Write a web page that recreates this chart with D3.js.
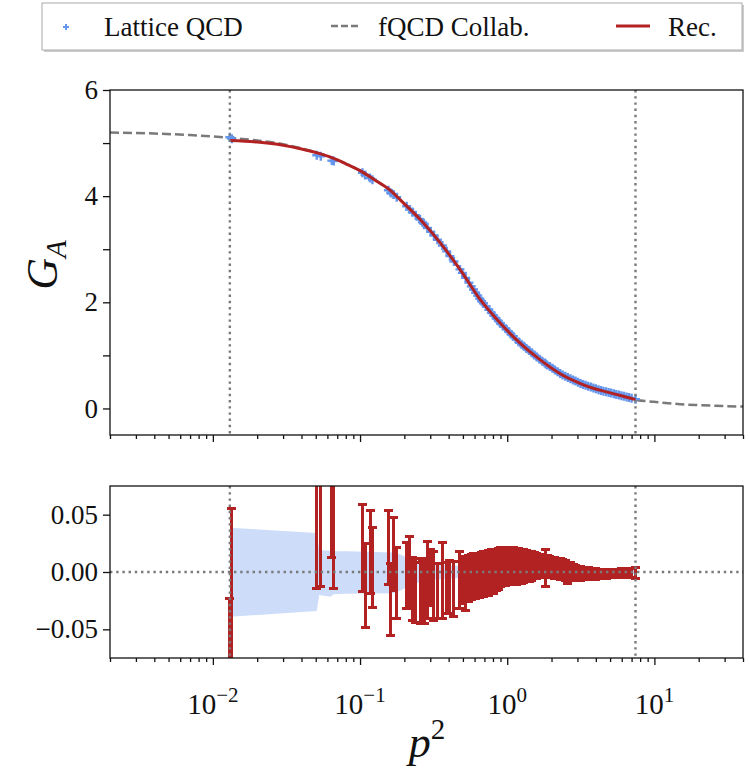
<!DOCTYPE html>
<html>
<head>
<meta charset="utf-8">
<script src="https://cdn.jsdelivr.net/npm/d3@7"></script>
<style>
  body { margin: 0; background: #fff; }
  text { font-family: "Liberation Serif", "DejaVu Serif", serif; fill: #111; }
</style>
</head>
<body>
<script>
// reconstruction curve (top panel)
var recP2 = [0.01304, 0.02, 0.03, 0.04, 0.052, 0.065, 0.08, 0.1, 0.13, 0.162, 0.189, 0.2584, 0.353,
    0.4827, 0.66, 0.902, 1.233, 1.685, 2.304, 3.15, 4.31, 5.89, 7.44];
var recG = [5.05, 5.02, 4.96, 4.89, 4.81, 4.72, 4.61, 4.48, 4.28, 4.10, 3.92, 3.55, 3.11,
    2.60, 2.04, 1.60, 1.22, 0.91, 0.65, 0.47, 0.34, 0.245, 0.165];

// fQCD collaboration curve
var fqcdP2 = [0.002, 0.004, 0.007, 0.01304, 0.02, 0.03, 0.04, 0.052, 0.065, 0.08, 0.1, 0.13, 0.162,
    0.189, 0.2584, 0.353, 0.4827, 0.66, 0.902, 1.233, 1.685, 2.304, 3.15, 4.31, 5.89, 7.44,
    10, 15, 20, 30, 40];
var fqcdG = [5.20, 5.18, 5.15, 5.10, 5.05, 4.98, 4.90, 4.81, 4.72, 4.61, 4.48, 4.28, 4.10,
    3.92, 3.55, 3.11, 2.60, 2.04, 1.60, 1.22, 0.91, 0.65, 0.47, 0.34, 0.245, 0.165,
    0.125, 0.08, 0.063, 0.045, 0.036];

// lattice points
var latP2 = [
    0.01304, 0.01346, 0.0508, 0.0541, 0.0643, 0.0663, 0.1038, 0.1081, 0.1169, 0.1214,
    0.1559, 0.1616, 0.1693, 0.1775, 0.2075, 0.2175, 0.2268, 0.2388, 0.2555, 0.2652,
    0.2720, 0.2869, 0.3020, 0.3180, 0.3354, 0.3626, 0.3878, 0.4083, 0.4346, 0.4776,
    0.4956, 0.5219, 0.5495,
    0.57, 0.59, 0.61, 0.63, 0.65, 0.67, 0.69, 0.72, 0.75, 0.78, 0.81, 0.84, 0.87, 0.90, 0.94, 0.98,
    1.02, 1.06, 1.10, 1.15, 1.20, 1.25, 1.30, 1.35, 1.41, 1.47, 1.53, 1.59, 1.66, 1.73, 1.80, 1.83, 1.87, 1.95,
    2.03, 2.11, 2.20, 2.29, 2.38, 2.48, 2.58, 2.69, 2.80, 2.91, 3.03, 3.15, 3.28, 3.41, 3.55, 3.70, 3.85,
    4.00, 4.17, 4.34, 4.51, 4.70, 4.89, 5.09, 5.30, 5.51, 5.74, 5.97, 6.21, 6.47, 6.73, 7.00, 7.44];
var latG = [
    5.11, 5.08, 4.77, 4.75, 4.67, 4.66, 4.44, 4.40, 4.34, 4.31,
    4.11, 4.06, 4.03, 3.98, 3.81, 3.75, 3.70, 3.64, 3.56, 3.51,
    3.48, 3.40, 3.33, 3.26, 3.18, 3.07, 2.96, 2.87, 2.77, 2.62,
    2.555, 2.46, 2.37,
    2.30, 2.24, 2.18, 2.125, 2.07, 2.02, 1.98, 1.92, 1.86, 1.806, 1.75, 1.70, 1.65, 1.60, 1.55, 1.50,
    1.45, 1.40, 1.36, 1.30, 1.25, 1.21, 1.17, 1.13, 1.09, 1.05, 1.006, 0.97, 0.925, 0.89, 0.855, 0.84, 0.82, 0.79,
    0.756, 0.724, 0.69, 0.657, 0.63, 0.608, 0.585, 0.56, 0.538, 0.516, 0.493, 0.47, 0.453, 0.437, 0.42, 0.403, 0.386,
    0.37, 0.353, 0.337, 0.326, 0.313, 0.301, 0.289, 0.277, 0.265, 0.253, 0.241, 0.229, 0.217, 0.205, 0.193, 0.175];

// residuals (bottom panel): centre and half error
var resMid = [
    -0.101, -0.04, 0.053, 0.063, 0.0815, 0.048, 0.021, -0.0118, 0.0175, 0.004,
    0.0215, -0.0239, 0.0157, -0.0097, -0.0029, 0.0004, -0.0148, -0.016, -0.0181, -0.0175,
    -0.0167, -0.0068, -0.0045, -0.012, -0.0167, -0.0075, -0.0137, -0.013, -0.015, -0.007,
    -0.0073, -0.0102, -0.0058,
    -0.0043, -0.003, -0.004, -0.0023, -0.003, -0.0015, -0.0018, -0.0005, -0.0008, 0.0008, 0.0005, 0.0018, 0.0028, 0.004, 0.0043, 0.0048,
    0.005, 0.0053, 0.0055, 0.0048, 0.0055, 0.0048, 0.0053, 0.005, 0.005, 0.0053, 0.0053, 0.0053, 0.0053, 0.005, 0.005, 0.0038, 0.0045, 0.0045,
    0.004, 0.0035, 0.003, 0.0025, 0.0023, 0.0013, -0.0013, 0.0008, -0.0003, -0.0003, -0.001, -0.0013, -0.0013, -0.0017, -0.0015, -0.0018, -0.0016,
    -0.0019, -0.0018, -0.0017, -0.0016, -0.0015, -0.0014, -0.0014, -0.0013, -0.0011, -0.001, -0.0009, -0.0008, -0.0007, -0.0008, -0.0009, -0.001];
var resErr = [
    0.078, 0.095, 0.067, 0.076, 0.0685, 0.062, 0.0378, 0.037, 0.0363, 0.035,
    0.0322, 0.0312, 0.0316, 0.0309, 0.029, 0.0309, 0.0278, 0.028, 0.0268, 0.0275,
    0.0283, 0.0338, 0.0245, 0.030, 0.024, 0.0331, 0.0224, 0.023, 0.024, 0.025,
    0.0198, 0.0238, 0.0203,
    0.0198, 0.019, 0.019, 0.0188, 0.019, 0.0185, 0.0193, 0.0185, 0.0193, 0.0188, 0.0195, 0.0178, 0.0178, 0.017, 0.0163, 0.0163,
    0.0155, 0.0163, 0.0155, 0.0153, 0.015, 0.0148, 0.0143, 0.0135, 0.013, 0.0123, 0.0113, 0.0108, 0.0103, 0.010, 0.0095, 0.0162, 0.0095, 0.009,
    0.009, 0.009, 0.009, 0.009, 0.0083, 0.0083, 0.0088, 0.0073, 0.0068, 0.0063, 0.006, 0.0058, 0.0053, 0.0052, 0.005, 0.0048, 0.0046,
    0.0047, 0.0043, 0.0042, 0.004, 0.0038, 0.0037, 0.0036, 0.0036, 0.0035, 0.0036, 0.0036, 0.0036, 0.0036, 0.0038, 0.0042, 0.0048];

// reconstruction uncertainty band (bottom panel)
var bandP2 = [0.01304, 0.0508, 0.0528, 0.063, 0.066, 0.08, 0.17, 0.19, 0.235, 0.3, 0.5, 1.5, 7.44];
var bandHi = [0.0386, 0.034, 0.019, 0.0185, 0.018, 0.018, 0.017, 0.015, 0.009, 0.007, 0.005, 0.003, 0.002];
var bandLo = [-0.039, -0.034, -0.020, -0.0215, -0.0195, -0.019, -0.0185, -0.016, -0.010, -0.007, -0.005, -0.003, -0.002];

var xMajor = [0.01, 0.1, 1, 10];
var xLabels = ["\u22122", "\u22121", "0", "1"];
var yTopTicks = [0, 1, 2, 3, 4, 5, 6];
var yBotTicks = [-0.05, 0, 0.05];
var yBotLabels = ["\u22120.05", "0.00", "0.05"];
var p2Min = 0.01304, p2Max = 7.44;

var W = 750, H = 769;
var RED = "#b22222", BLUE = "#6495ed", GRAY = "#7a7a7a";

var svg = d3.select("body").append("svg").attr("width", W).attr("height", H);

var x = d3.scaleLog().domain([0.002, 40]).range([110, 743]);
var yTop = d3.scaleLinear().domain([-0.5, 6]).range([435, 90]);
var yBot = d3.scaleLinear().domain([-0.075, 0.075]).range([658, 486]);

var defs = svg.append("defs");
defs.append("clipPath").attr("id", "clipTop").append("rect")
    .attr("x", 110).attr("y", 90).attr("width", 633).attr("height", 345);
defs.append("clipPath").attr("id", "clipBot").append("rect")
    .attr("x", 110).attr("y", 486).attr("width", 633).attr("height", 172);

var xMinor = x.ticks().filter(d => xMajor.indexOf(d) < 0);

function xAxes(g, y0) {
    g.append("g").attr("transform", "translate(0," + y0 + ")")
        .call(d3.axisBottom(x).tickValues(xMajor).tickSize(7).tickFormat(""))
        .call(s => s.select(".domain").remove());
    g.append("g").attr("transform", "translate(0," + y0 + ")")
        .call(d3.axisBottom(x).tickValues(xMinor).tickSize(4).tickFormat(""))
        .call(s => s.select(".domain").remove());
    g.selectAll(".tick line").attr("stroke", "#111").attr("stroke-width", 1.3);
}

function dotted(g, x1, x2, y1, y2) {
    g.append("line").attr("x1", x1).attr("x2", x2).attr("y1", y1).attr("y2", y2)
        .attr("stroke", GRAY).attr("stroke-width", 2.4).attr("stroke-dasharray", "2.4,3.8");
}

// ---------- top panel ----------
var gTop = svg.append("g");

gTop.append("path")
    .datum(fqcdP2.map((d, i) => [d, fqcdG[i]]))
    .attr("clip-path", "url(#clipTop)")
    .attr("fill", "none").attr("stroke", GRAY).attr("stroke-width", 2.5)
    .attr("stroke-dasharray", "9,4")
    .attr("d", d3.line().x(d => x(d[0])).y(d => yTop(d[1])).curve(d3.curveMonotoneX));

gTop.append("g").attr("clip-path", "url(#clipTop)")
    .selectAll("path").data(latP2.map((d, i) => [d, latG[i]])).join("path")
    .attr("fill", "none").attr("stroke", BLUE).attr("stroke-width", 2.4)
    .attr("d", d => {
        var cx = x(d[0]), cy = yTop(d[1]);
        return "M" + (cx - 4.5) + "," + cy + "H" + (cx + 4.5) + "M" + cx + "," + (cy - 4.5) + "V" + (cy + 4.5);
    });

gTop.append("path")
    .datum(recP2.map((d, i) => [d, recG[i]]))
    .attr("fill", "none").attr("stroke", RED).attr("stroke-width", 3)
    .attr("d", d3.line().x(d => x(d[0])).y(d => yTop(d[1])).curve(d3.curveMonotoneX));

[p2Min, p2Max].forEach(v => dotted(gTop, x(v), x(v), 90, 435));

gTop.append("rect").attr("x", 110).attr("y", 90).attr("width", 633).attr("height", 345)
    .attr("fill", "none").attr("stroke", "#111").attr("stroke-width", 1.3);

xAxes(gTop, 435);

var yAxT = gTop.append("g").attr("transform", "translate(110,0)")
    .call(d3.axisLeft(yTop).tickValues(yTopTicks).tickSize(7)
        .tickFormat(d => d % 2 === 0 ? d : ""));
yAxT.select(".domain").remove();
yAxT.selectAll(".tick line").attr("stroke", "#111").attr("stroke-width", 1.3);
yAxT.selectAll(".tick text").attr("font-size", 27).attr("x", -12)
    .attr("font-family", "Liberation Serif, serif").attr("fill", "#111");

var gl = gTop.append("text").attr("transform", "translate(57,265) rotate(-90)")
    .attr("text-anchor", "middle").attr("font-size", 44);
gl.append("tspan").attr("font-style", "italic").text("G");
gl.append("tspan").attr("font-style", "italic").attr("font-size", 29).attr("dy", 9).text("A");

// ---------- bottom panel ----------
var gBot = svg.append("g");

gBot.append("path")
    .datum(bandP2.map((d, i) => [d, bandLo[i], bandHi[i]]))
    .attr("fill", BLUE).attr("fill-opacity", 0.33)
    .attr("d", d3.area().x(d => x(d[0])).y0(d => yBot(d[1])).y1(d => yBot(d[2])));

var bars = gBot.append("g").attr("clip-path", "url(#clipBot)")
    .attr("stroke", RED).attr("stroke-width", 3).attr("fill", "none")
    .attr("shape-rendering", "crispEdges");
bars.selectAll("path").data(latP2.map((d, i) => [d, resMid[i] - resErr[i], resMid[i] + resErr[i]])).join("path")
    .attr("d", d => {
        var cx = x(d[0]), lo = yBot(d[1]), hi = yBot(d[2]);
        return "M" + cx + "," + lo + "V" + hi +
            "M" + (cx - 4.5) + "," + lo + "H" + (cx + 4.5) +
            "M" + (cx - 4.5) + "," + hi + "H" + (cx + 4.5);
    });

dotted(gBot, 110, 743, yBot(0), yBot(0));
[p2Min, p2Max].forEach(v => dotted(gBot, x(v), x(v), 486, 658));

gBot.append("rect").attr("x", 110).attr("y", 486).attr("width", 633).attr("height", 172)
    .attr("fill", "none").attr("stroke", "#111").attr("stroke-width", 1.3);

xAxes(gBot, 658);

var yAxB = gBot.append("g").attr("transform", "translate(110,0)")
    .call(d3.axisLeft(yBot).tickValues(yBotTicks).tickSize(7)
        .tickFormat((d, i) => yBotLabels[i]));
yAxB.select(".domain").remove();
yAxB.selectAll(".tick line").attr("stroke", "#111").attr("stroke-width", 1.3);
yAxB.selectAll(".tick text").attr("font-size", 27).attr("x", -12)
    .attr("font-family", "Liberation Serif, serif").attr("fill", "#111");

xMajor.forEach((v, i) => {
    var t = gBot.append("text").attr("x", x(v)).attr("y", 714)
        .attr("text-anchor", "middle").attr("font-size", 29);
    t.append("tspan").text("10");
    t.append("tspan").attr("font-size", 21).attr("dy", -12).text(xLabels[i]);
});

var pl = gBot.append("text").attr("x", 427).attr("y", 757)
    .attr("text-anchor", "middle").attr("font-size", 44);
pl.append("tspan").attr("font-style", "italic").text("p");
pl.append("tspan").attr("font-size", 29).attr("dy", -18).text("2");

// ---------- legend ----------
var lg = svg.append("g");
lg.append("rect").attr("x", 44).attr("y", 5).attr("width", 700).attr("height", 47)
    .attr("fill", "#999").attr("opacity", 0.5);
lg.append("rect").attr("x", 42).attr("y", 3).attr("width", 700).attr("height", 47)
    .attr("fill", "#fff").attr("stroke", "#aaa").attr("stroke-width", 1);

lg.append("path").attr("stroke", BLUE).attr("stroke-width", 2).attr("fill", "none")
    .attr("d", "M63,27H69M66,24V30");
lg.append("text").attr("x", 104).attr("y", 36).attr("font-size", 27).text("Lattice QCD");

lg.append("line").attr("x1", 331).attr("x2", 358).attr("y1", 26).attr("y2", 26)
    .attr("stroke", GRAY).attr("stroke-width", 2.4).attr("stroke-dasharray", "7,3");
lg.append("text").attr("x", 378).attr("y", 36).attr("font-size", 27).text("fQCD Collab.");

lg.append("line").attr("x1", 616).attr("x2", 650).attr("y1", 26).attr("y2", 26)
    .attr("stroke", RED).attr("stroke-width", 3);
lg.append("text").attr("x", 668).attr("y", 36).attr("font-size", 27).text("Rec.");
</script>
</body>
</html>
